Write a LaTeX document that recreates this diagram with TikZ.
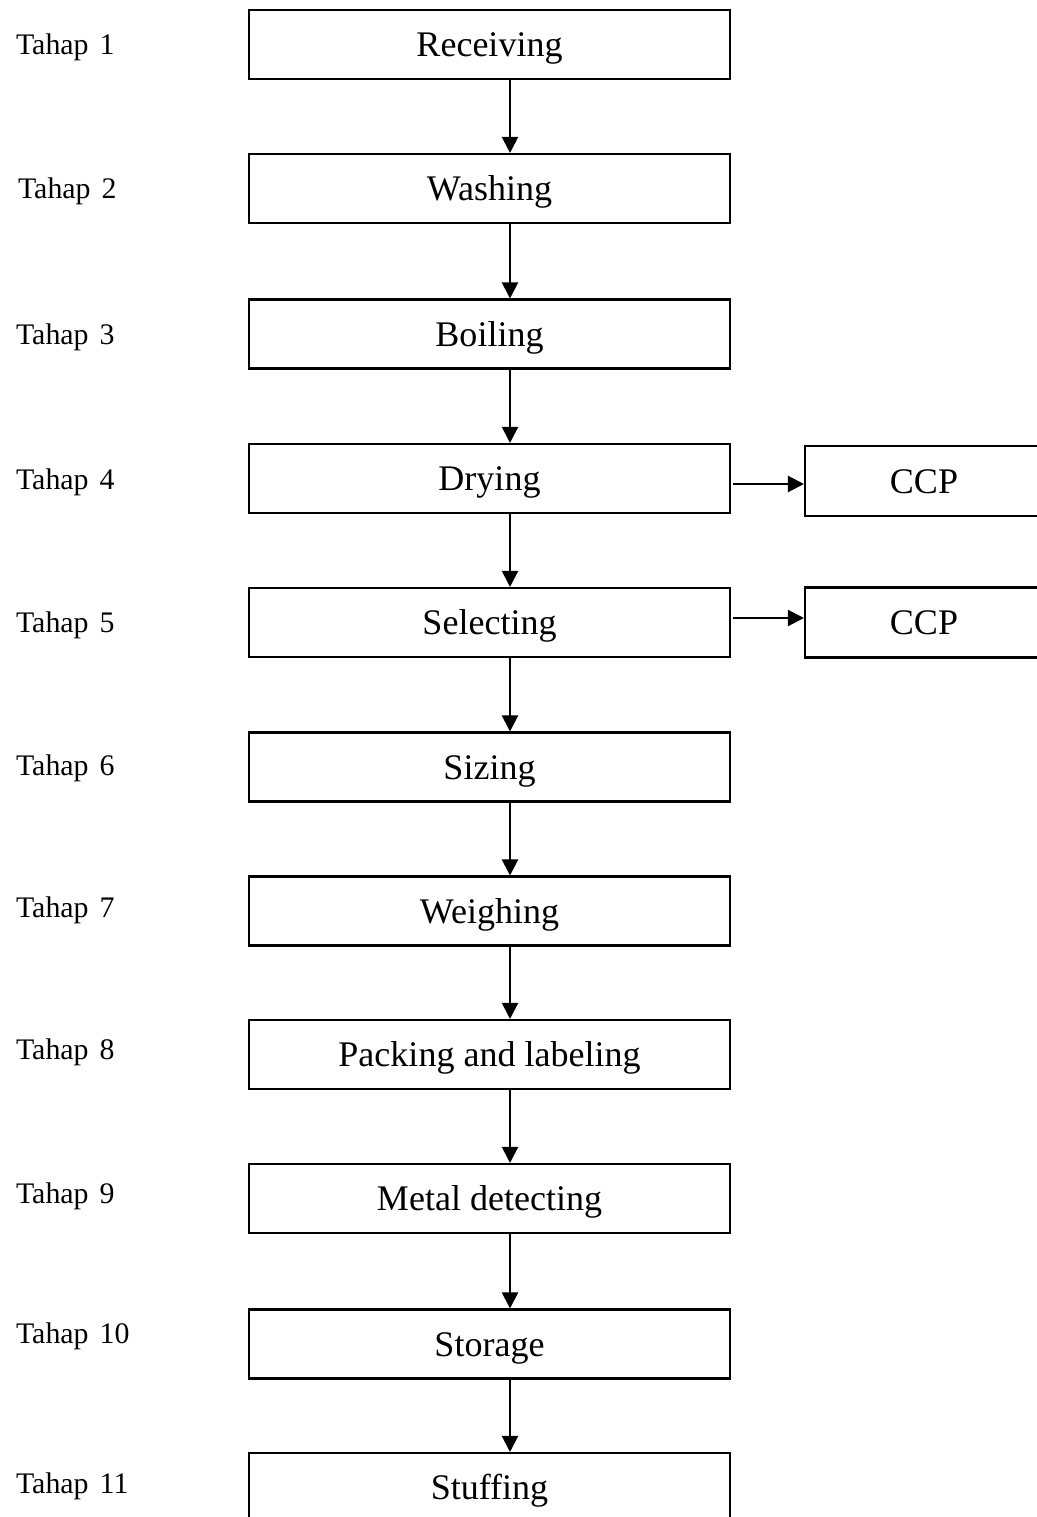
\documentclass[tikz,border=0pt]{standalone}
\usepackage{fontspec}
\setmainfont{Liberation Serif}
\usetikzlibrary{arrows.meta}
\begin{document}
\begin{tikzpicture}[x=0.02cm, y=-0.02cm, line width=1.2pt,
  box/.style={draw, rectangle, minimum width=9.62cm, minimum height=1.38cm, inner sep=0pt, text height=0.6cm, text depth=0.12cm, font=\fontsize{20.5}{24}\selectfont},
  ccpbox/.style={draw, rectangle, minimum width=4.76cm, minimum height=1.4cm, inner sep=0pt, text height=0.6cm, text depth=0.12cm, font=\fontsize{20.5}{24}\selectfont},
  tahap/.style={anchor=base west, inner sep=0pt, font=\fontsize{17}{20}\selectfont},
  flow/.style={-{Triangle[width=0.32cm, length=0.32cm]}}]
\useasboundingbox (0,0) rectangle (1037,1517);
\node[box] (b1) at (489.5, 44.5) {Receiving};
\node[box] (b2) at (489.5, 188.5) {Washing};
\node[box] (b3) at (489.5, 334) {Boiling};
\node[box] (b4) at (489.5, 478.5) {Drying};
\node[box] (b5) at (489.5, 622.5) {Selecting};
\node[box] (b6) at (489.5, 767) {Sizing};
\node[box] (b7) at (489.5, 911) {Weighing};
\node[box] (b8) at (489.5, 1054.5) {Packing and labeling};
\node[box] (b9) at (489.5, 1198.5) {Metal detecting};
\node[box] (b10) at (489.5, 1344) {Storage};
\node[box] (b11) at (489.5, 1487.5) {Stuffing};
\node[ccpbox] (c1) at (924, 481) {CCP};
\node[ccpbox] (c2) at (924, 622.5) {CCP};
\node[tahap] (t1) at (15, 55) {Tahap\hspace{0.37em}1};
\node[tahap] (t2) at (17, 199) {Tahap\hspace{0.37em}2};
\node[tahap] (t3) at (15, 344) {Tahap\hspace{0.37em}3};
\node[tahap] (t4) at (15, 489) {Tahap\hspace{0.37em}4};
\node[tahap] (t5) at (15, 632) {Tahap\hspace{0.37em}5};
\node[tahap] (t6) at (15, 775) {Tahap\hspace{0.37em}6};
\node[tahap] (t7) at (15, 917) {Tahap\hspace{0.37em}7};
\node[tahap] (t8) at (15, 1059) {Tahap\hspace{0.37em}8};
\node[tahap] (t9) at (15, 1203) {Tahap\hspace{0.37em}9};
\node[tahap] (t10) at (15, 1343) {Tahap\hspace{0.37em}10};
\node[tahap] (t11) at (15, 1493) {Tahap\hspace{0.37em}11};
\coordinate (ax) at (510, 0);
\coordinate (h1) at (0, 484);
\coordinate (h2) at (0, 618);
\foreach \a/\b in {b1/b2, b2/b3, b3/b4, b4/b5, b5/b6, b6/b7, b7/b8, b8/b9, b9/b10, b10/b11}
  \draw[flow] (\a.south -| ax) -- (\b.north -| ax);
\draw[flow] ([xshift=0.04cm]b4.east |- h1) -- (c1.west |- h1);
\draw[flow] ([xshift=0.04cm]b5.east |- h2) -- (c2.west |- h2);
\end{tikzpicture}
\end{document}
